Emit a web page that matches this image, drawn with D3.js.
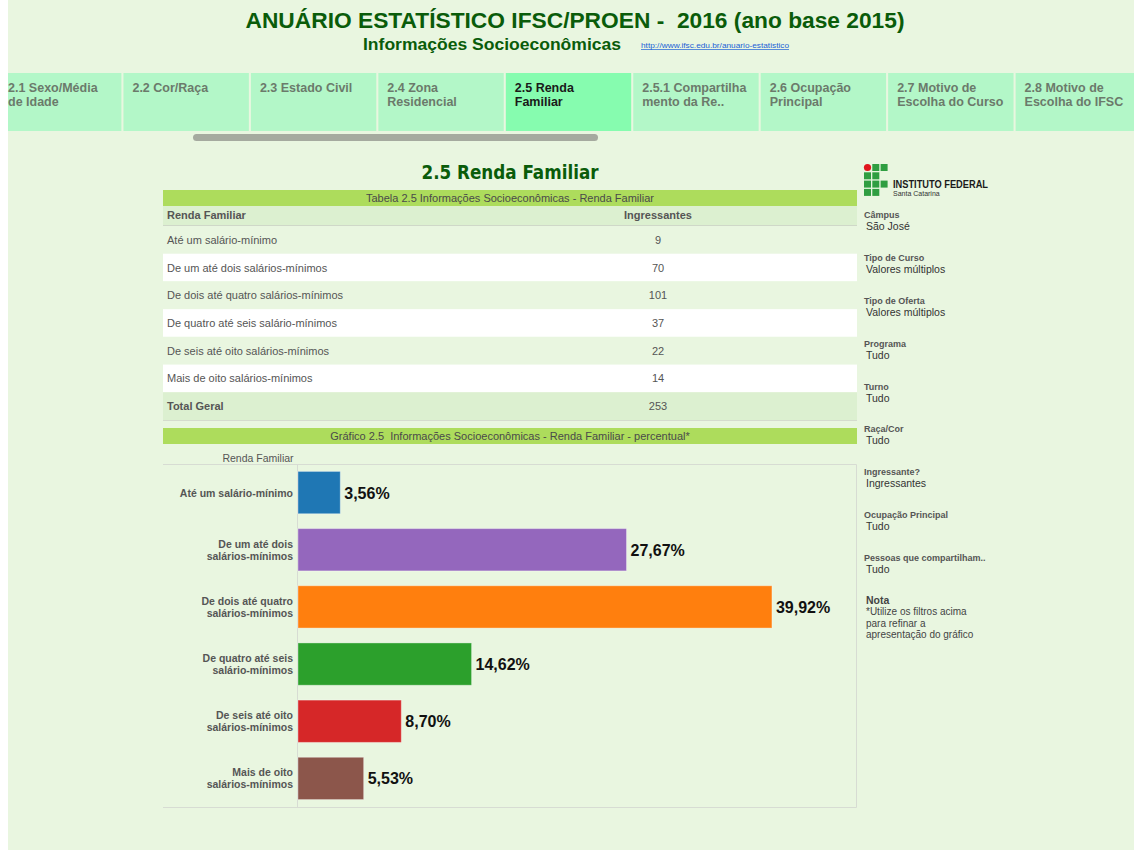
<!DOCTYPE html>
<html>

<head>
    <meta charset="utf-8">
    <title>2.5 Renda Familiar</title>
    <script src="https://d3js.org/d3.v7.min.js"></script>
    <style>
        body { margin: 0; background: #ffffff; }
        svg { display: block; }
    </style>
</head>

<body>
    <svg width="1134" height="850" id="mainsvg"></svg>
    <script>
        // ---- dados ----
        const tabs = [
            ["2.1 Sexo/Média", "de Idade"], ["2.2 Cor/Raça"], ["2.3 Estado Civil"],
            ["2.4 Zona", "Residencial"], ["2.5 Renda", "Familiar"], ["2.5.1 Compartilha", "mento da Re.."],
            ["2.6 Ocupação", "Principal"], ["2.7 Motivo de", "Escolha do Curso"], ["2.8 Motivo de", "Escolha do IFSC"]
        ];
        const activeTab = 4;
        const tableLabels = [
            "Até um salário-mínimo", "De um até dois salários-mínimos", "De dois até quatro salários-mínimos",
            "De quatro até seis salário-mínimos", "De seis até oito salários-mínimos", "Mais de oito salários-mínimos"
        ];
        const ingressantes = [9, 70, 101, 37, 22, 14];
        const totalGeral = 253;
        const chartLabels = [
            ["Até um salário-mínimo"], ["De um até dois", "salários-mínimos"], ["De dois até quatro", "salários-mínimos"],
            ["De quatro até seis", "salário-mínimos"], ["De seis até oito", "salários-mínimos"], ["Mais de oito", "salários-mínimos"]
        ];
        const percentual = [3.56, 27.67, 39.92, 14.62, 8.70, 5.53];
        const barColors = ["#1f77b4", "#9467bd", "#ff7f0e", "#2ca02c", "#d62728", "#8c564b"];
        const filtros = [
            ["Câmpus", "São José"], ["Tipo de Curso", "Valores múltiplos"], ["Tipo de Oferta", "Valores múltiplos"],
            ["Programa", "Tudo"], ["Turno", "Tudo"], ["Raça/Cor", "Tudo"], ["Ingressante?", "Ingressantes"],
            ["Ocupação Principal", "Tudo"], ["Pessoas que compartilham..", "Tudo"]
        ];
        const nota = ["*Utilize os filtros acima", "para refinar a", "apresentação do gráfico"];

        const svg = d3.select('#mainsvg');
        const FONT = "Liberation Sans, Arial, sans-serif";
        const dark = '#0a5c0a';

        // fundo
        svg.append('rect').attr('x', 8).attr('y', 0).attr('width', 1126).attr('height', 850).attr('fill', '#e9f6e0');

        // ---- cabecalho ----
        svg.append('text').attr('x', 575).attr('y', 28).attr('text-anchor', 'middle')
            .attr('font-family', FONT).attr('font-weight', 'bold').attr('font-size', 22).attr('fill', dark)
            .attr('textLength', 659).attr('lengthAdjust', 'spacingAndGlyphs')
            .text('ANUÁRIO ESTATÍSTICO IFSC/PROEN - \u00a02016 (ano base 2015)');
        svg.append('text').attr('x', 363).attr('y', 50)
            .attr('font-family', FONT).attr('font-weight', 'bold').attr('font-size', 16).attr('fill', dark)
            .attr('textLength', 258).attr('lengthAdjust', 'spacingAndGlyphs')
            .text('Informações Socioeconômicas');
        svg.append('text').attr('x', 641).attr('y', 48)
            .attr('font-family', FONT).attr('font-size', 7).attr('fill', '#1a5fd6')
            .attr('text-decoration', 'underline')
            .attr('textLength', 148).attr('lengthAdjust', 'spacingAndGlyphs')
            .text('http://www.ifsc.edu.br/anuario-estatistico');

        // ---- abas ----
        const tabX = d3.scaleBand().domain(d3.range(tabs.length)).range([-4, 1141]).paddingInner(0.016);
        const tabG = svg.append('g');
        tabs.forEach((t, i) => {
            const x0 = Math.max(8, tabX(i));
            const x1 = Math.min(1134, tabX(i) + tabX.bandwidth());
            tabG.append('rect').attr('x', x0).attr('y', 73).attr('width', x1 - x0).attr('height', 58)
                .attr('fill', i === activeTab ? '#86fcaf' : '#b3f7c8');
            t.forEach((line, j) => {
                tabG.append('text').attr('x', Math.max(8, tabX(i) + 9)).attr('y', 92 + j * 14)
                    .attr('font-family', FONT).attr('font-weight', 'bold').attr('font-size', 12.5)
                    .attr('fill', i === activeTab ? '#1a1a1a' : '#6b7a6b')
                    .text(line);
            });
        });
        svg.append('rect').attr('x', 193).attr('y', 134).attr('width', 405).attr('height', 7)
            .attr('rx', 3.5).attr('fill', '#a5aa9f');

        // ---- titulo da secao ----
        svg.append('text').attr('x', 510).attr('y', 179).attr('text-anchor', 'middle')
            .attr('font-family', 'DejaVu Sans Condensed, DejaVu Sans, sans-serif').attr('font-weight', 'bold')
            .attr('font-size', 19).attr('fill', dark)
            .attr('textLength', 177).attr('lengthAdjust', 'spacingAndGlyphs')
            .text('2.5 Renda Familiar');

        // ---- tabela ----
        const tl = 163, tr = 857;
        const bar = (y, h, txt) => {
            svg.append('rect').attr('x', tl).attr('y', y).attr('width', tr - tl).attr('height', h).attr('fill', '#addc5c');
            svg.append('text').attr('x', (tl + tr) / 2).attr('y', y + h / 2 + 4).attr('text-anchor', 'middle')
                .attr('font-family', FONT).attr('font-size', 11).attr('fill', '#4a4a4a').text(txt);
        };
        bar(190, 16, 'Tabela 2.5 Informações Socioeconômicas - Renda Familiar');

        svg.append('rect').attr('x', tl).attr('y', 206).attr('width', tr - tl).attr('height', 19).attr('fill', '#dcf0d0');
        svg.append('line').attr('x1', tl).attr('x2', tr).attr('y1', 225.5).attr('y2', 225.5).attr('stroke', '#cfd8c8');
        svg.append('text').attr('x', 167).attr('y', 219).attr('font-family', FONT).attr('font-weight', 'bold')
            .attr('font-size', 11).attr('fill', '#555').text('Renda Familiar');
        svg.append('text').attr('x', 658).attr('y', 219).attr('text-anchor', 'middle').attr('font-family', FONT)
            .attr('font-weight', 'bold').attr('font-size', 11).attr('fill', '#555').text('Ingressantes');

        const rowY = d3.scaleBand().domain(d3.range(tableLabels.length + 1)).range([226, 420]);
        const rows = svg.append('g').selectAll('g').data(tableLabels.map((l, i) => ({ l, v: ingressantes[i], i }))
            .concat([{ l: 'Total Geral', v: totalGeral, i: tableLabels.length, total: true }]))
            .join('g').attr('transform', d => `translate(0,${rowY(d.i)})`);
        rows.append('rect').attr('x', tl).attr('width', tr - tl).attr('height', rowY.bandwidth())
            .attr('fill', d => d.total ? '#dcf0d0' : (d.i % 2 ? '#ffffff' : '#e9f6e0'));
        rows.append('text').attr('x', 167).attr('y', rowY.bandwidth() / 2 + 4)
            .attr('font-family', FONT).attr('font-size', 11).attr('font-weight', d => d.total ? 'bold' : 'normal')
            .attr('fill', '#555').text(d => d.l);
        rows.append('text').attr('x', 658).attr('y', rowY.bandwidth() / 2 + 4).attr('text-anchor', 'middle')
            .attr('font-family', FONT).attr('font-size', 11).attr('fill', '#555').text(d => d.v);
        svg.append('line').attr('x1', tl).attr('x2', tr).attr('y1', 420.5).attr('y2', 420.5).attr('stroke', '#d4dccd');

        // ---- grafico ----
        bar(428, 16, 'Gráfico 2.5 \u00a0Informações Socioeconômicas - Renda Familiar - percentual*');
        svg.append('text').attr('x', 258).attr('y', 462).attr('text-anchor', 'middle')
            .attr('font-family', FONT).attr('font-size', 10.5).attr('fill', '#555').text('Renda Familiar');

        const cTop = 464, cBot = 807, cLeft = 297, cRight = 856;
        svg.append('path').attr('d', `M${tl},${cTop}.5H${cRight}.5V${cBot}.5H${tl}`)
            .attr('fill', 'none').attr('stroke', '#d7dcd3');
        svg.append('line').attr('x1', cLeft + 0.5).attr('x2', cLeft + 0.5).attr('y1', cTop).attr('y2', cBot)
            .attr('stroke', '#d7dcd3');

        const x = d3.scaleLinear().domain([0, 47]).range([cLeft + 1, cRight]);
        const y = d3.scaleBand().domain(d3.range(percentual.length)).range([cTop, cBot])
            .paddingInner(0.26).paddingOuter(0.13);

        const g = svg.append('g');
        const bars = g.selectAll('g').data(percentual.map((v, i) => ({ v, i }))).join('g');
        bars.append('rect').attr('x', x(0)).attr('y', d => y(d.i))
            .attr('width', d => x(d.v) - x(0)).attr('height', y.bandwidth())
            .attr('fill', d => barColors[d.i])
            .attr('stroke', 'rgba(255,255,255,0.35)').attr('stroke-width', 1);
        bars.append('text').attr('x', d => x(d.v) + 4).attr('y', d => y(d.i) + y.bandwidth() / 2 + 6)
            .attr('font-family', FONT).attr('font-weight', 'bold').attr('font-size', 16).attr('fill', '#111')
            .text(d => d.v.toFixed(2).replace('.', ',') + '%');

        const yAxis = g.append('g');
        chartLabels.forEach((lines, i) => {
            const cy = y(i) + y.bandwidth() / 2;
            lines.forEach((ln, j) => {
                yAxis.append('text').attr('x', cLeft - 4)
                    .attr('y', cy + 4 + (j - (lines.length - 1) / 2) * 12)
                    .attr('text-anchor', 'end').attr('font-family', FONT).attr('font-weight', 'bold')
                    .attr('font-size', 10.5).attr('fill', '#555').text(ln);
            });
        });

        // ---- painel direito ----
        const logo = svg.append('g').attr('transform', 'translate(864,164)');
        const cells = [[1, 1, 1], [1, 1, 0], [1, 1, 1], [1, 1, 0]];
        cells.forEach((row, r) => row.forEach((c, k) => {
            if (!c) return;
            if (r === 0 && k === 0) {
                logo.append('circle').attr('cx', 3.5).attr('cy', 3.5).attr('r', 3.6).attr('fill', '#e0161d');
            } else {
                logo.append('rect').attr('x', k * 8.3).attr('y', r * 8.3).attr('width', 7).attr('height', 7)
                    .attr('fill', '#2f9e41');
            }
        }));
        svg.append('text').attr('x', 893).attr('y', 188).attr('font-family', FONT).attr('font-weight', 'bold')
            .attr('font-size', 10.5).attr('fill', '#1a1a1a')
            .attr('textLength', 95).attr('lengthAdjust', 'spacingAndGlyphs').text('INSTITUTO FEDERAL');
        svg.append('text').attr('x', 893).attr('y', 196).attr('font-family', FONT)
            .attr('font-size', 7).attr('fill', '#333').text('Santa Catarina');

        const fy = d3.scaleLinear().domain([0, filtros.length]).range([215, 601]);
        filtros.forEach((f, i) => {
            svg.append('text').attr('x', 864).attr('y', fy(i) + 3).attr('font-family', FONT).attr('font-weight', 'bold')
                .attr('font-size', 9).attr('fill', '#555').text(f[0]);
            svg.append('text').attr('x', 866).attr('y', fy(i) + 15).attr('font-family', FONT)
                .attr('font-size', 10.5).attr('fill', '#333').text(f[1]);
        });
        svg.append('text').attr('x', 866).attr('y', 604).attr('font-family', FONT).attr('font-weight', 'bold')
            .attr('font-size', 10.5).attr('fill', '#444').text('Nota');
        nota.forEach((ln, i) => {
            svg.append('text').attr('x', 866).attr('y', 615 + i * 11.5).attr('font-family', FONT)
                .attr('font-size', 10).attr('fill', '#444').text(ln);
        });
    </script>
</body>

</html>
